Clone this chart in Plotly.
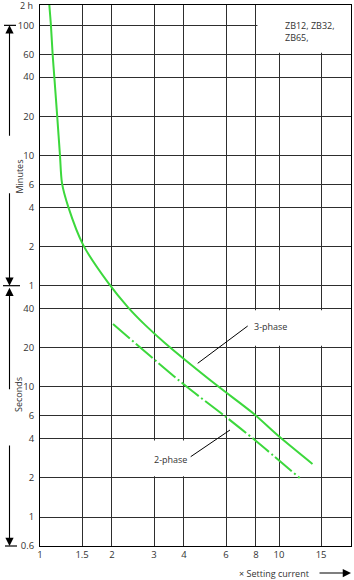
import math
import plotly.graph_objects as go

# ---------------- data ----------------
x_ticks = [1, 1.5, 2, 3, 4, 6, 8, 10, 15, 20]
x_tick_text = ["1", "1.5", "2", "3", "4", "6", "8", "10", "15", "20"]

# tripping time in seconds (minutes section above 1 min, seconds below)
y_ticks_s = [6000, 3600, 2400, 1200, 600, 360, 240, 120, 60,
             40, 20, 10, 6, 4, 2, 1, 0.6]
y_tick_text = ["100", "60", "40", "20", "10", "6", "4", "2", "1",
               "40", "20", "10", "6", "4", "2", "1", "0.6"]

phase3_x = [1.094, 1.111, 1.130, 1.148, 1.181, 1.212, 1.236, 1.313, 1.517,
            1.93, 2.33, 2.75, 3.33, 5.49, 7.77, 10.07, 13.8]
phase3_t = [8600, 5990, 3540, 2400, 1183, 604, 368, 242, 123,
            63, 41.1, 30, 21.8, 10.3, 6.3, 4.12, 2.56]

phase2_x = [2.02, 4.04, 5.93, 7.92, 12.2]
phase2_t = [30.4, 10.3, 5.98, 3.91, 2.0]

X_MIN, X_MAX = 1, 20
Y_MIN, Y_MAX = 0.6, 8600

# ---------------- geometry helpers (decorations only) ----------------
W, H = 354, 580
ML, MR, MT, MB = 40, 3, 5, 34
PW, PH = W - ML - MR, H - MT - MB


def pxp(pix):
    return (pix - ML) / PW


def pyp(pix):
    return (H - MB - pix) / PH


def pyv(v):
    return (math.log10(v) - math.log10(Y_MIN)) / (math.log10(Y_MAX) - math.log10(Y_MIN))


GREEN = "#3cd83c"
GRID = "#2e2e2e"
TXT = "#333333"
FONT = "Open Sans"

fig = go.Figure()
fig.add_trace(go.Scatter(x=phase3_x, y=phase3_t, mode="lines",
                         line=dict(color=GREEN, width=2, shape="spline", smoothing=0.8),
                         hoverinfo="skip", showlegend=False))
fig.add_trace(go.Scatter(x=phase2_x, y=phase2_t, mode="lines",
                         line=dict(color=GREEN, width=2, dash="22px,3px,2px,3px",
                                   shape="spline", smoothing=0.8),
                         hoverinfo="skip", showlegend=False))

shapes = []
# white masks that interrupt the grid (text areas)
for (x0, x1, y0, y1) in [(8.12, 20, 3700, Y_MAX), (6.5, 20, 20.7, 38.8), (2.2, 5.3, 2.06, 3.88)]:
    shapes.append(dict(type="rect", xref="x", yref="y", x0=x0, x1=x1, y0=y0, y1=y1,
                       fillcolor="white", line=dict(width=0), layer="between"))

# leader lines for phase labels
shapes.append(dict(type="line", xref="paper", yref="paper",
                   x0=pxp(197.7), y0=pyp(363.3), x1=pxp(247.7), y1=pyp(326),
                   line=dict(color="black", width=1)))
shapes.append(dict(type="line", xref="paper", yref="paper",
                   x0=pxp(190.7), y0=pyp(456.7), x1=pxp(230), y1=pyp(430),
                   line=dict(color="black", width=1)))

# end bars of left-side range arrows
for (v, a, b) in [(6000, 4, 16), (60, 3, 20), (0.6, 5, 17)]:
    shapes.append(dict(type="line", xref="paper", yref="paper",
                       x0=pxp(a), x1=pxp(b), y0=pyv(v), y1=pyv(v),
                       line=dict(color="black", width=1.2)))

annotations = []


def arrow(head_v, tail_dy, x_pix=9.5, dy_pix=0):
    return dict(xref="paper", yref="paper", x=pxp(x_pix), y=pyv(head_v) + dy_pix / PH,
                ax=0, ay=tail_dy, text="", showarrow=True, arrowhead=2,
                arrowsize=1.5, arrowwidth=1.1, arrowcolor="black", standoff=0)


annotations.append(arrow(6000, 112))
annotations.append(arrow(60, -94))
annotations.append(arrow(60, 103, dy_pix=-2))
annotations.append(arrow(0.6, -102))

annotations.append(dict(xref="paper", yref="paper", x=pxp(10), y=pyp(158),
                        text="Minutes", showarrow=False, textangle=-90,
                        font=dict(family=FONT, size=9, color=TXT)))
annotations.append(dict(xref="paper", yref="paper", x=pxp(10), y=pyp(414),
                        text="Seconds", showarrow=False, textangle=-90,
                        font=dict(family=FONT, size=9, color=TXT)))
annotations.append(dict(xref="paper", yref="paper", x=pxp(35), y=1,
                        xanchor="right", yanchor="middle", text="2 h", showarrow=False,
                        font=dict(family=FONT, size=9, color=TXT)))

annotations.append(dict(xref="paper", yref="paper", x=pxp(283), y=pyp(31),
                        xanchor="left", yanchor="middle", align="left",
                        text="ZB12, ZB32,<br>ZB65,", showarrow=False,
                        font=dict(family=FONT, size=9, color=TXT)))
annotations.append(dict(xref="paper", yref="paper", x=pxp(252), y=pyp(326),
                        xanchor="left", yanchor="middle", text="3-phase", showarrow=False,
                        font=dict(family=FONT, size=9, color=TXT)))
annotations.append(dict(xref="paper", yref="paper", x=pxp(152), y=pyp(459),
                        xanchor="left", yanchor="middle", text="2-phase", showarrow=False,
                        font=dict(family=FONT, size=9, color=TXT)))

annotations.append(dict(xref="paper", yref="paper", x=pxp(311), y=pyp(573),
                        xanchor="right", yanchor="middle", text="× Setting current",
                        showarrow=False, font=dict(family=FONT, size=9, color=TXT)))
annotations.append(dict(xref="paper", yref="paper", x=pxp(351), y=pyp(573),
                        ax=-33, ay=0, text="", showarrow=True, arrowhead=2,
                        arrowsize=1.5, arrowwidth=1.1, arrowcolor="black", standoff=0))

fig.update_layout(
    width=W, height=H,
    margin=dict(l=ML, r=MR, t=MT, b=MB),
    paper_bgcolor="white", plot_bgcolor="white",
    shapes=shapes, annotations=annotations,
    font=dict(family=FONT, size=9, color=TXT),
    xaxis=dict(type="log", range=[math.log10(X_MIN), math.log10(X_MAX)],
               tickmode="array", tickvals=x_ticks, ticktext=x_tick_text,
               showgrid=True, gridcolor=GRID, gridwidth=1, ticks="",
               showline=True, linecolor="black", linewidth=1, mirror=True,
               zeroline=False, tickfont=dict(family=FONT, size=9.5, color=TXT)),
    yaxis=dict(type="log", range=[math.log10(Y_MIN), math.log10(Y_MAX)],
               tickmode="array", tickvals=y_ticks_s, ticktext=y_tick_text,
               showgrid=True, gridcolor=GRID, gridwidth=1, ticks="",
               ticklabelstandoff=3,
               showline=True, linecolor="black", linewidth=1, mirror=True,
               zeroline=False, tickfont=dict(family=FONT, size=9.5, color=TXT)),
)

fig.write_html("out.html")
